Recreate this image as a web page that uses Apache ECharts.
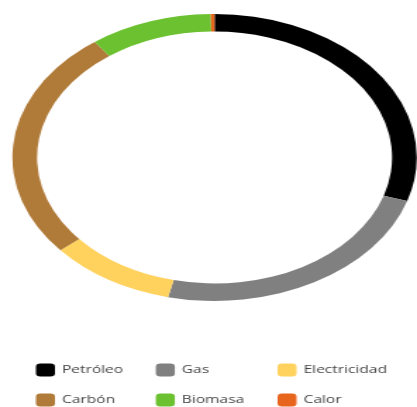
<!DOCTYPE html>
<html><head><meta charset="utf-8">
<script src="https://cdn.jsdelivr.net/npm/echarts@6/dist/echarts.min.js"></script>
<style>
html,body{margin:0;padding:0;background:#fff;overflow:hidden;}
#main{width:296px;height:407px;transform:scaleX(1.4088);transform-origin:0 0;}
</style></head><body>
<div id="main"></div>
<script>
const categories = ['Petróleo','Gas','Electricidad','Carbón','Biomasa','Calor'];
const values = [29.9, 23.8, 10.1, 26.1, 9.8, 0.3];
const colors = ['#000000','#808080','#FFD25E','#B07A38','#6CC130','#E8651E'];

const chart = echarts.init(document.getElementById('main'), null, {renderer:'canvas'});
const legendPos = [
  {left:25.5, top:363.5},{left:110.6, top:363.5},{left:197, top:363.5},
  {left:25.5, top:393.5},{left:110.6, top:393.5},{left:197, top:393.5}
];
chart.setOption({
  animation:false,
  color: colors,
  legend: categories.map((c,i)=>({
    data:[c], left:legendPos[i].left, top:legendPos[i].top, padding:0,
    icon:'roundRect', itemWidth:13.5, itemHeight:13, itemGap:0,
    selectedMode:false,
    textStyle:{fontFamily:'Open Sans', fontSize:11, color:'#444', padding:[0,0,0,0]}
  })),
  series:[{
    type:'pie',
    center:[152.3,157.5],
    radius:[126,143.5],
    startAngle:90,
    clockwise:true,
    label:{show:false},
    labelLine:{show:false},
    emphasis:{disabled:true},
    itemStyle:{borderWidth:0},
    data: categories.map((c,i)=>({name:c, value:values[i]}))
  }]
});
</script>
</body></html>
